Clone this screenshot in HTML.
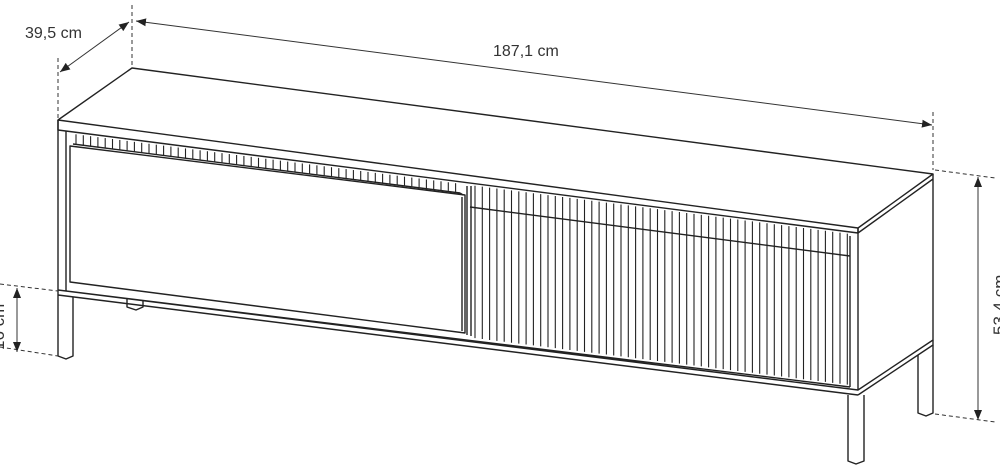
<!DOCTYPE html>
<html><head><meta charset="utf-8"><style>
html,body{margin:0;padding:0;background:#fff;width:1000px;height:470px;overflow:hidden}
svg{display:block}
text{font-family:"Liberation Sans",sans-serif;fill:#333;font-size:16px}
</style></head><body>
<svg id="s" width="1000" height="470" viewBox="0 0 1000 470" xmlns="http://www.w3.org/2000/svg">
<defs>
<marker id="a" viewBox="0 0 10 10" refX="10" refY="5" markerWidth="10" markerHeight="10" markerUnits="userSpaceOnUse" orient="auto-start-reverse"><path d="M0,1 L10,5 L0,9z" fill="#222"/></marker>
</defs>
<g stroke="#222" stroke-width="1.4" fill="none" stroke-linejoin="round">
<path d="M58,120 L132,68 L933,174 L858,228 Z"/>
<path d="M58,120 L58,130 L858,233 L858,228"/>
<path d="M858,233 L933,179 M933,174 L933,340 L858,390 L858,228"/>
<path d="M858,395 L933,345 L933,340"/>
<path d="M58,120 L58,295 M66,131 L66,291"/>
<path d="M58,290 L858,390 M58,295 L858,395 M66,291 L850,387"/>
<path d="M850,236 L850,387"/>
<path d="M58,295 L58,356 L66,359 L73,356 L73,297"/>
<path d="M848,395 L848,461 L856,464 L864,461 L864,395"/>
<path d="M918,355 L918,413 L926,416 L933,413 L933,345"/>
<path d="M127,299 L127,307 L136,310 L143,307 L143,301"/>
<path d="M70,146 L465,195 L465,333 L70,282 Z"/>
<path d="M73,144 L460,193 M460,193 L463,195"/>
<path d="M462,197 L462,331"/>
<path d="M467,186 L467,335 M471,186 L471,336"/>
<path d="M470,207 L850,256"/>
</g>
<g id="sl" stroke="#222" stroke-width="1.1"></g>
<g stroke="#333" stroke-width="1" fill="none">
<path d="M132,5 L132,65 M58,58 L58,118 M933,112 L933,170 M935,170 L995,178 M935,414 L995,422 M0,284 L58,291 M0,347 L58,356" stroke-dasharray="4,3"/>
<line x1="136" y1="21" x2="932" y2="125" marker-start="url(#a)" marker-end="url(#a)"/>
<line x1="60" y1="72" x2="129" y2="22" marker-start="url(#a)" marker-end="url(#a)"/>
<line x1="978" y1="177" x2="978" y2="420" marker-start="url(#a)" marker-end="url(#a)"/>
<line x1="17" y1="288" x2="17" y2="352" marker-start="url(#a)" marker-end="url(#a)"/>
</g>
<text x="25" y="38">39,5 cm</text>
<text x="493" y="56">187,1 cm</text>
<text transform="translate(1005,335) rotate(-90)" style="font-size:17px">53,4 cm</text>
<text transform="translate(4,350) rotate(-90)" style="font-size:17px">16 cm</text>
</svg>
<script>
var g=document.getElementById('sl'),s='';
function topL(x){return 130+(x-58)*103/800;}
for(var x=76;x<458;x+=7.3){var y1=topL(x)+2,y2=146+(x-70)*49/395-2;s+='<line x1="'+x+'" y1="'+y1+'" x2="'+x+'" y2="'+y2+'"/>';}
for(var x=475;x<849;x+=7.3){var y1=topL(x)+2,y2=290+(x-58)*100/800-3;s+='<line x1="'+x+'" y1="'+y1+'" x2="'+x+'" y2="'+(y2-1)+'"/>';}
g.innerHTML=s;
</script>
</body></html>
